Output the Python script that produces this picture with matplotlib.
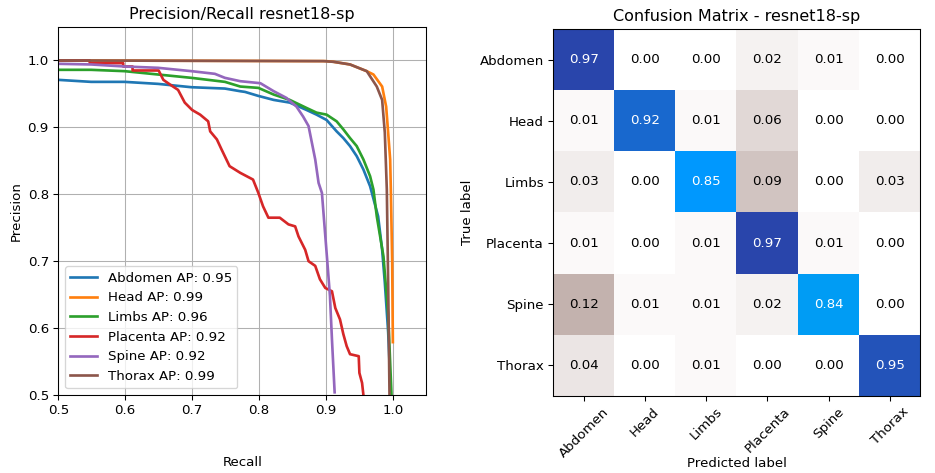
import matplotlib

matplotlib.use("Agg")
import matplotlib.pyplot as plt
import numpy as np

model_name = "resnet18-sp"
classes = ["Abdomen", "Head", "Limbs", "Placenta", "Spine", "Thorax"]
average_precision = [0.95, 0.99, 0.96, 0.92, 0.92, 0.99]

# precision/recall points (recall, precision)
abdomen_recall = [0.50, 0.549, 0.599, 0.649, 0.699, 0.749, 0.772, 0.779, 0.799, 0.822, 0.846, 0.871, 0.886, 0.901,
                  0.916, 0.926, 0.936, 0.946, 0.956, 0.966, 0.978, 0.984, 0.988, 0.993, 0.995]
abdomen_precision = [0.971, 0.968, 0.968, 0.965, 0.960, 0.958, 0.954, 0.953, 0.947, 0.941, 0.937, 0.926, 0.919, 0.911,
                     0.894, 0.884, 0.872, 0.857, 0.837, 0.812, 0.767, 0.717, 0.668, 0.594, 0.548]

head_recall = [0.50, 0.90, 0.911, 0.936, 0.961, 0.971, 0.984, 0.990, 0.993, 0.996, 0.997, 0.999, 1.0]
head_precision = [1.0, 0.999, 0.998, 0.994, 0.984, 0.979, 0.961, 0.931, 0.892, 0.852, 0.807, 0.70, 0.579]

limbs_recall = [0.50, 0.549, 0.599, 0.649, 0.699, 0.749, 0.772, 0.799, 0.822, 0.846, 0.871, 0.886, 0.901, 0.916,
                0.926, 0.936, 0.946, 0.956, 0.966, 0.971, 0.976, 0.986, 0.993, 0.998]
limbs_precision = [0.986, 0.986, 0.984, 0.979, 0.974, 0.968, 0.961, 0.959, 0.949, 0.941, 0.929, 0.922, 0.919, 0.909,
                   0.897, 0.884, 0.872, 0.852, 0.827, 0.807, 0.767, 0.707, 0.620, 0.50]

placenta_recall = [0.50, 0.547, 0.547, 0.597, 0.597, 0.611, 0.611, 0.650, 0.657, 0.667, 0.679, 0.689, 0.700, 0.712, 0.724,
                   0.727, 0.737, 0.744, 0.756, 0.772, 0.791, 0.799, 0.806, 0.814, 0.831, 0.844, 0.854, 0.859, 0.869, 0.874,
                   0.884, 0.891, 0.899, 0.909, 0.914, 0.921, 0.926, 0.931, 0.936, 0.949, 0.950, 0.954, 0.956]
placenta_precision = [1.0, 1.0, 0.996, 0.996, 0.991, 0.991, 0.985, 0.985, 0.971, 0.964, 0.956, 0.937, 0.926, 0.919, 0.909,
                      0.894, 0.882, 0.867, 0.842, 0.832, 0.822, 0.802, 0.782, 0.765, 0.765, 0.755, 0.752, 0.737, 0.717, 0.700,
                      0.693, 0.673, 0.660, 0.655, 0.630, 0.613, 0.591, 0.573, 0.561, 0.558, 0.533, 0.518, 0.50]

spine_recall = [0.50, 0.549, 0.599, 0.649, 0.699, 0.734, 0.749, 0.772, 0.802, 0.822, 0.841, 0.856, 0.866, 0.874, 0.879,
                0.884, 0.889, 0.894, 0.902, 0.906, 0.909, 0.913]
spine_precision = [0.995, 0.994, 0.991, 0.989, 0.984, 0.980, 0.974, 0.969, 0.966, 0.954, 0.944, 0.931, 0.916, 0.902, 0.877,
                   0.852, 0.817, 0.802, 0.700, 0.648, 0.583, 0.504]

thorax_recall = [0.50, 0.896, 0.911, 0.936, 0.961, 0.976, 0.984, 0.988, 0.991, 0.993, 0.995]
thorax_precision = [1.0, 0.999, 0.998, 0.994, 0.984, 0.961, 0.941, 0.892, 0.807, 0.668, 0.50]

confusion = np.array([
    [0.97, 0.00, 0.00, 0.02, 0.01, 0.00],
    [0.01, 0.92, 0.01, 0.06, 0.00, 0.00],
    [0.03, 0.00, 0.85, 0.09, 0.00, 0.03],
    [0.01, 0.00, 0.01, 0.97, 0.01, 0.00],
    [0.12, 0.01, 0.01, 0.02, 0.84, 0.00],
    [0.04, 0.00, 0.01, 0.00, 0.00, 0.95],
])

curves = [
    (abdomen_recall, abdomen_precision),
    (head_recall, head_precision),
    (limbs_recall, limbs_precision),
    (placenta_recall, placenta_precision),
    (spine_recall, spine_precision),
    (thorax_recall, thorax_precision),
]

dpi = 96
fig = plt.figure(figsize=(935 / dpi, 473 / dpi), dpi=dpi)

# precision / recall panel
ax = fig.add_axes([58.3 / 935, 1 - 395 / 473, 368 / 935, 368 / 473])
for name, ap, (rec, prec) in zip(classes, average_precision, curves):
    ax.plot(rec, prec, linewidth=2, label=f"{name} AP: {ap:.2f}")
ax.set_xlim(0.5, 1.05)
ax.set_ylim(0.5, 1.05)
ax.set_xticks([0.5, 0.6, 0.7, 0.8, 0.9, 1.0])
ax.set_yticks([0.5, 0.6, 0.7, 0.8, 0.9, 1.0])
ax.grid(True)
ax.set_xlabel("Recall")
ax.xaxis.set_label_coords(0.5, -0.166)
ax.set_ylabel("Precision")
ax.set_title(f"Precision/Recall {model_name}")
ax.legend(loc="lower left")

# confusion matrix panel
ax2 = fig.add_axes([553.3 / 935, 1 - 396 / 473, 367 / 935, 367 / 473])
ax2.imshow(confusion, interpolation="nearest", cmap="terrain_r", vmin=0.0, vmax=1.0)
ax2.set_title(f"Confusion Matrix - {model_name}")
ticks = np.arange(len(classes))
ax2.set_xticks(ticks)
ax2.set_xticklabels(classes, rotation=45)
ax2.set_yticks(ticks)
ax2.set_yticklabels(classes)
thresh = confusion.max() / 2
for i in range(confusion.shape[0]):
    for j in range(confusion.shape[1]):
        ax2.text(j, i, f"{confusion[i, j]:.2f}", ha="center", va="center",
                 color="white" if confusion[i, j] > thresh else "black")
ax2.set_ylabel("True label")
ax2.set_xlabel("Predicted label")
ax2.xaxis.set_label_coords(0.5, -0.166)

fig.savefig("out.png", dpi=dpi)
